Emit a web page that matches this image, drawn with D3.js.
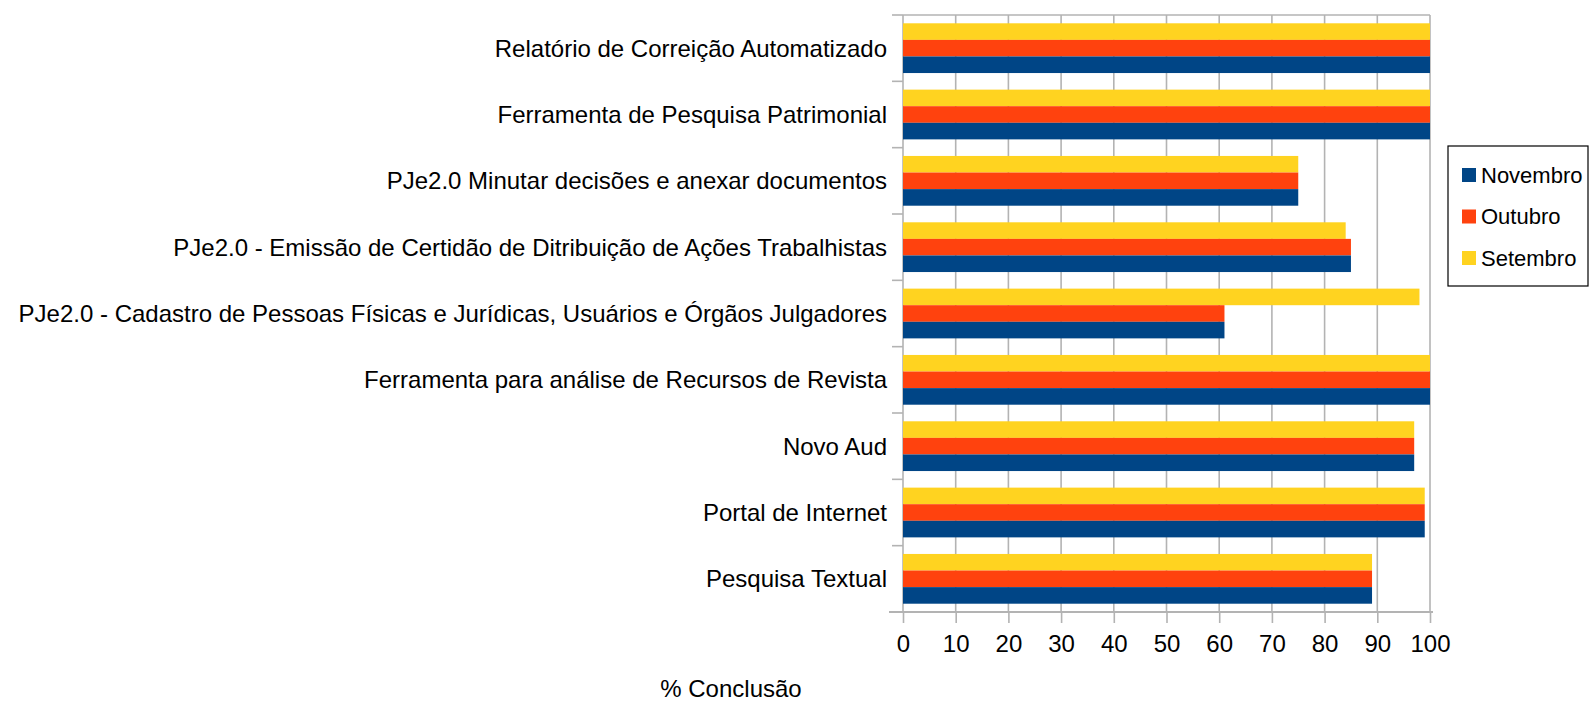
<!DOCTYPE html>
<html>
<head>
<meta charset="utf-8">
<script src="https://cdn.jsdelivr.net/npm/d3@7"></script>
<style>
  body { margin: 0; background: #fff; }
  svg text { font-family: "Liberation Sans", Arial, sans-serif; fill: #000; }
</style>
</head>
<body>
<div id="chart"></div>
<script>
// categories, top to bottom
const categories = [
  "Relatório de Correição Automatizado",
  "Ferramenta de Pesquisa Patrimonial",
  "PJe2.0 Minutar decisões e anexar documentos",
  "PJe2.0 - Emissão de Certidão de Ditribuição de Ações Trabalhistas",
  "PJe2.0 - Cadastro de Pessoas Físicas e Jurídicas, Usuários e Órgãos Julgadores",
  "Ferramenta para análise de Recursos de Revista",
  "Novo Aud",
  "Portal de Internet",
  "Pesquisa Textual"
];
const setembro = [100, 100, 75, 84, 98, 100, 97, 99, 89];
const outubro  = [100, 100, 75, 85, 61, 100, 97, 99, 89];
const novembro = [100, 100, 75, 85, 61, 100, 97, 99, 89];
const xTicks = [0, 10, 20, 30, 40, 50, 60, 70, 80, 90, 100];
const axisTitle = "% Conclusão";

const series = [
  {name: "Setembro", values: setembro, colour: "#ffd320"},
  {name: "Outubro", values: outubro, colour: "#ff420e"},
  {name: "Novembro", values: novembro, colour: "#004586"}
];
const legendOrder = ["Novembro", "Outubro", "Setembro"];

const width = 1589, height = 705;
const plot = {left: 903, right: 1430, top: 15, bottom: 612};
const fontSize = "24px";

const svg = d3.select("#chart").append("svg")
    .attr("width", width)
    .attr("height", height);

const x = d3.scaleLinear().domain([0, 100]).range([plot.left, plot.right]);
const y = d3.scaleBand().domain(categories).range([plot.top, plot.bottom]).padding(0);
const ySub = d3.scaleBand().domain(series.map(s => s.name))
    .range([0, y.bandwidth()]).paddingInner(0).paddingOuter(0.5);

// gridlines
svg.append("g").attr("class", "grid")
  .selectAll("line")
  .data(xTicks)
  .join("line")
    .attr("x1", d => x(d)).attr("x2", d => x(d))
    .attr("y1", plot.top).attr("y2", plot.bottom)
    .attr("stroke", "#b3b3b3")
    .attr("stroke-width", 1.6);

// category boundary ticks on the left
const bounds = categories.map(c => y(c)).concat([plot.bottom]);
svg.append("g").attr("class", "y-ticks")
  .selectAll("line")
  .data(bounds)
  .join("line")
    .attr("x1", plot.left - 11).attr("x2", plot.left)
    .attr("y1", d => d).attr("y2", d => d)
    .attr("stroke", "#b3b3b3")
    .attr("stroke-width", 1.6);

svg.append("line")
    .attr("x1", plot.left).attr("x2", plot.right)
    .attr("y1", plot.top).attr("y2", plot.top)
    .attr("stroke", "#b3b3b3").attr("stroke-width", 1.6);

// bars
const groups = svg.append("g").attr("class", "bars")
  .selectAll(".data-group")
  .data(series)
  .join("g")
    .attr("class", "data-group")
    .attr("fill", d => d.colour);

groups.selectAll("rect")
  .data(s => s.values.map((v, i) => ({name: s.name, cat: categories[i], value: v})))
  .join("rect")
    .attr("x", x(0))
    .attr("y", d => y(d.cat) + ySub(d.name))
    .attr("width", d => x(d.value) - x(0))
    .attr("height", ySub.bandwidth());

// category labels
svg.append("g").attr("class", "labels")
  .selectAll("text")
  .data(categories)
  .join("text")
    .attr("x", plot.left - 16)
    .attr("y", d => y(d) + y.bandwidth() / 2)
    .attr("dy", "0.35em")
    .attr("text-anchor", "end")
    .style("font-size", fontSize)
    .text(d => d);

// x axis
const xAxis = svg.append("g")
    .attr("class", "x-axis")
    .attr("transform", `translate(0, ${plot.bottom})`)
    .call(d3.axisBottom(x).tickValues(xTicks).tickSize(11).tickPadding(12).tickSizeOuter(0));
xAxis.select(".domain").remove();
xAxis.selectAll(".tick line").attr("stroke", "#b3b3b3").attr("stroke-width", 1.6);
xAxis.selectAll(".tick text").style("font-size", fontSize).attr("fill", "#000");
xAxis.append("line")
    .attr("x1", plot.left - 14).attr("x2", plot.right + 3)
    .attr("y1", 0).attr("y2", 0)
    .attr("stroke", "#b3b3b3").attr("stroke-width", 2);

svg.append("text")
    .attr("x", 731)
    .attr("y", 697)
    .attr("text-anchor", "middle")
    .style("font-size", fontSize)
    .text(axisTitle);

// legend
const legend = svg.append("g").attr("class", "legend")
    .attr("transform", "translate(1448, 146)");
legend.append("rect")
    .attr("width", 140).attr("height", 140)
    .attr("fill", "#fff").attr("stroke", "#000").attr("stroke-width", 1.2);
const legendItems = legend.selectAll(".legend-item")
  .data(legendOrder.map(n => series.find(s => s.name === n)))
  .join("g")
    .attr("class", "legend-item")
    .attr("transform", (d, i) => `translate(14, ${29 + i * 41.5})`);
legendItems.append("rect")
    .attr("x", 0).attr("y", -7)
    .attr("width", 14).attr("height", 14)
    .attr("fill", d => d.colour);
legendItems.append("text")
    .attr("x", 19)
    .attr("dy", "0.35em")
    .style("font-size", "22px")
    .text(d => d.name);
</script>
</body>
</html>
